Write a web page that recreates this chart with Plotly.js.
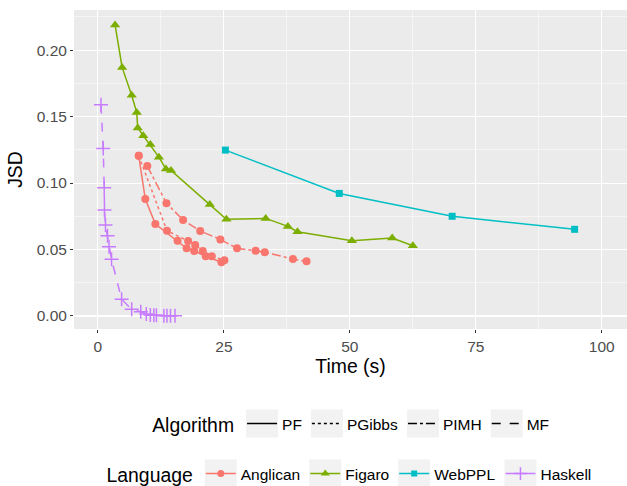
<!DOCTYPE html>
<html>
<head>
<meta charset="utf-8">
<script src="https://cdn.plot.ly/plotly-3.0.1.min.js"></script>
<style>html,body{margin:0;padding:0;background:#fff;}#chart{width:627px;height:486px;}</style>
</head>
<body>
<div id="chart"></div>
<script>
// ---- data ----
const anglicanPF_x = [8.1, 9.4, 11.4, 15.8, 17.6, 19.1, 21.4, 24.5];
const anglicanPF_y = [0.1205, 0.088, 0.0692, 0.0566, 0.0509, 0.0489, 0.0449, 0.0404];
const anglicanPG_x = [8.1, 13.7, 17.9, 19.3, 20.8, 22.6, 25.1];
const anglicanPG_y = [0.1205, 0.0641, 0.0564, 0.0534, 0.0489, 0.0449, 0.0419];
const anglicanPIMH_x = [9.8, 13.6, 16.9, 20.3, 24.3, 27.6, 31.3, 33.1, 38.7, 41.4];
const anglicanPIMH_y = [0.1128, 0.0848, 0.0722, 0.0639, 0.0576, 0.0509, 0.0491, 0.0479, 0.0429, 0.0411];
const figaro_x = [3.4, 4.8, 6.7, 7.7, 7.9, 9.0, 10.4, 12.1, 13.5, 14.5, 22.2, 25.5, 33.3, 37.7, 39.6, 50.4, 58.4, 62.5];
const figaro_y = [0.219, 0.187, 0.166, 0.153, 0.1415, 0.1356, 0.129, 0.1195, 0.1105, 0.1095, 0.0838, 0.0727, 0.0734, 0.0674, 0.0634, 0.0566, 0.0586, 0.0528];
const webppl_x = [25.3, 47.9, 70.3, 94.6];
const webppl_y = [0.1248, 0.0922, 0.0750, 0.0652];
const haskell_x = [0.6, 1.05, 1.25, 1.3, 1.5, 1.9, 2.2, 2.7, 4.7, 6.7, 8.5, 9.6, 10.4, 11.1, 11.6, 13.1, 13.7, 14.4, 15.3];
const haskell_y = [0.159, 0.126, 0.0965, 0.0797, 0.0684, 0.0604, 0.0521, 0.0426, 0.0125, 0.005, 0.0032, 0.0015, 0.0008, 0.0005, 0.0005, 0.0002, 0.0001, 0.0001, 0.0001];

const algorithms = ['PF', 'PGibbs', 'PIMH', 'MF'];
const algoDash = ['solid', 'dot', 'dashdot', 'dash'];
const languages = ['Anglican', 'Figaro', 'WebPPL', 'Haskell'];
const langColor = ['#F8766D', '#7CAE00', '#00BFC4', '#C77CFF'];
const langSymbol = ['circle', 'triangle-up', 'square', 'cross-thin-open'];
const langSize = [8, 9, 7, 10];

function series(x, y, li, dash) {
  return {
    x: x, y: y, type: 'scatter', mode: 'lines+markers', showlegend: false,
    line: {color: langColor[li], width: 1.5, dash: dash},
    marker: {color: langColor[li], symbol: langSymbol[li], size: langSize[li],
             line: {color: langColor[li], width: li === 3 ? 1.5 : 0}},
    hoverinfo: 'skip'
  };
}

const traces = [
  series(anglicanPF_x, anglicanPF_y, 0, 'solid'),
  series(anglicanPG_x, anglicanPG_y, 0, 'dot'),
  series(anglicanPIMH_x, anglicanPIMH_y, 0, 'dashdot'),
  series(figaro_x, figaro_y, 1, 'solid'),
  series(webppl_x, webppl_y, 2, 'solid'),
  series(haskell_x, haskell_y, 3, 'dash')
];

algorithms.forEach((a, i) => traces.push({
  x: [null], y: [null], type: 'scatter', mode: 'lines', name: a, legend: 'legend',
  line: {color: '#000', width: 1.5, dash: algoDash[i]}
}));
languages.forEach((l, i) => traces.push({
  x: [null], y: [null], type: 'scatter', mode: 'lines+markers', name: l, legend: 'legend2',
  line: {color: langColor[i], width: 1.5},
  marker: {color: langColor[i], symbol: langSymbol[i], size: langSize[i] - 1,
           line: {color: langColor[i], width: i === 3 ? 1.5 : 0}}
}));

const font = 'Liberation Sans, Arial, sans-serif';
const axisCommon = {
  showgrid: true, gridcolor: '#ffffff', gridwidth: 1.1, zeroline: false,
  ticks: 'outside', ticklen: 3, tickcolor: '#333333', tickwidth: 1,
  tickfont: {family: font, size: 15.5, color: '#4d4d4d'},
  showline: false
};

const layout = {
  width: 627, height: 486,
  margin: {l: 74, r: 0, t: 10, b: 157},
  paper_bgcolor: '#ffffff', plot_bgcolor: '#ebebeb',
  font: {family: font},
  xaxis: Object.assign({}, axisCommon, {
    range: [-4.75, 105], tickvals: [0, 25, 50, 75, 100], automargin: false,
    minor: {tickvals: [12.5, 37.5, 62.5, 87.5], showgrid: true, gridcolor: '#ffffff', gridwidth: 0.5, ticks: ''},
    title: {text: 'Time (s)', font: {family: font, size: 19.4, color: '#000'}, standoff: 4}
  }),
  yaxis: Object.assign({}, axisCommon, {
    range: [-0.0098, 0.2302], tickvals: [0, 0.05, 0.10, 0.15, 0.20], ticktext: ['0.00', '0.05', '0.10', '0.15', '0.20'], automargin: false,
    minor: {tickvals: [0.025, 0.075, 0.125, 0.175, 0.225], showgrid: true, gridcolor: '#ffffff', gridwidth: 0.5, ticks: ''},
    title: {text: 'JSD', font: {family: font, size: 19.4, color: '#000'}, standoff: 8}
  }),
  legend: {
    orientation: 'h', x: 0.503, xanchor: 'center', xref: 'paper', yref: 'container', y: 1 - 425 / 486, yanchor: 'middle',
    title: {text: 'Algorithm', side: 'left', font: {family: font, size: 19.4, color: '#000'}},
    font: {family: font, size: 15.5, color: '#000'}, itemwidth: 30, bgcolor: 'rgba(0,0,0,0)'
  },
  legend2: {
    orientation: 'h', x: 0.5, xanchor: 'center', xref: 'paper', yref: 'container', y: 1 - 475 / 486, yanchor: 'middle',
    title: {text: 'Language', side: 'left', font: {family: font, size: 19.4, color: '#000'}},
    font: {family: font, size: 15.5, color: '#000'}, itemwidth: 30, bgcolor: 'rgba(0,0,0,0)'
  }
};

Plotly.newPlot('chart', traces, layout, {displayModeBar: false, staticPlot: true}).then(gd => {
  // grey legend key backgrounds (ggplot style), placed behind the rendered legend symbols
  try {
    const s = gd._fullLayout._size;
    const shapes = [];
    gd.querySelectorAll('g.legendsymbols').forEach(sym => {
      const m = sym.getCTM();
      if (!m) return;
      const cx = m.e + 20 * m.a;
      const cy = m.f;
      const hw = 16, hh = 14;
      shapes.push({
        type: 'rect', xref: 'paper', yref: 'paper', layer: 'below',
        x0: (cx - hw - s.l) / s.w, x1: (cx + hw - s.l) / s.w,
        y0: 1 - (cy + hh - s.t) / s.h, y1: 1 - (cy - hh - s.t) / s.h,
        fillcolor: '#f2f2f2', line: {width: 0}
      });
    });
    if (shapes.length) return Plotly.relayout(gd, {shapes: shapes});
  } catch (e) {}
});
</script>
</body>
</html>
